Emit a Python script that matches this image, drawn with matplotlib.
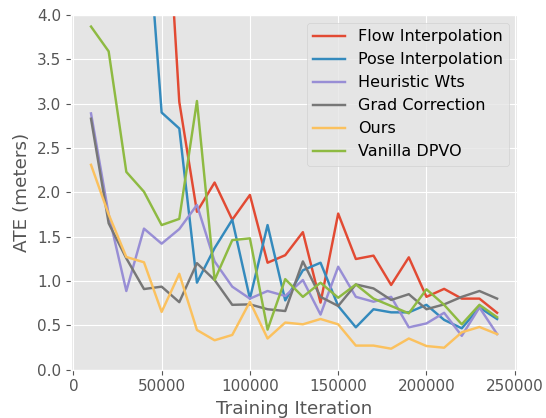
import matplotlib
matplotlib.use("Agg")
import matplotlib.pyplot as plt

plt.style.use("ggplot")
plt.rcParams["font.size"] = 11
plt.rcParams["lines.linewidth"] = 1.75

iterations = [10000 * k for k in range(1, 25)]

flow_interp = [12.0, 10.0, 9.0, 7.5, 6.3, 3.02, 1.78, 2.11, 1.69, 1.97, 1.205, 1.29,
               1.55, 0.755, 1.76, 1.247, 1.285, 0.954, 1.266, 0.82, 0.91, 0.80, 0.80, 0.64]
pose_interp = [8.5, 7.5, 6.5, 5.56, 2.90, 2.72, 0.98, 1.37, 1.69, 0.80, 1.63, 0.78,
               1.12, 1.205, 0.717, 0.476, 0.68, 0.645, 0.645, 0.73, 0.56, 0.465, 0.70, 0.57]
heuristic_wts = [2.89, 1.75, 0.886, 1.59, 1.42, 1.585, 1.857, 1.22, 0.935, 0.80, 0.886, 0.83,
                 1.01, 0.62, 1.16, 0.82, 0.765, 0.82, 0.476, 0.52, 0.64, 0.38, 0.70, 0.40]
grad_correction = [2.83, 1.65, 1.255, 0.908, 0.935, 0.76, 1.2, 1.01, 0.73, 0.735, 0.68, 0.66,
                   1.22, 0.82, 0.717, 0.96, 0.915, 0.785, 0.85, 0.68, 0.735, 0.82, 0.886, 0.80]
ours = [2.31, 1.75, 1.27, 1.21, 0.65, 1.08, 0.446, 0.33, 0.39, 0.765, 0.35, 0.53,
        0.51, 0.57, 0.51, 0.27, 0.27, 0.235, 0.35, 0.265, 0.246, 0.42, 0.48, 0.40]
vanilla_dpvo = [3.87, 3.59, 2.23, 2.006, 1.63, 1.70, 3.03, 1.01, 1.46, 1.48, 0.45, 1.02,
                0.82, 0.98, 0.81, 0.96, 0.80, 0.717, 0.634, 0.905, 0.73, 0.51, 0.73, 0.59]

series = [
    ("Flow Interpolation", flow_interp),
    ("Pose Interpolation", pose_interp),
    ("Heuristic Wts", heuristic_wts),
    ("Grad Correction", grad_correction),
    ("Ours", ours),
    ("Vanilla DPVO", vanilla_dpvo),
]

fig, ax = plt.subplots(figsize=(5.46, 4.18), dpi=100)
fig.subplots_adjust(left=0.1295, right=0.9476, bottom=0.116, top=0.964)

for name, vals in series:
    ax.plot(iterations, vals, label=name)

ax.set_ylim(0, 4)
ax.set_xlabel("Training Iteration")
ax.set_ylabel("ATE (meters)")
ax.legend(loc="upper right", fontsize=11.5)

plt.savefig("out.png", dpi=100)
